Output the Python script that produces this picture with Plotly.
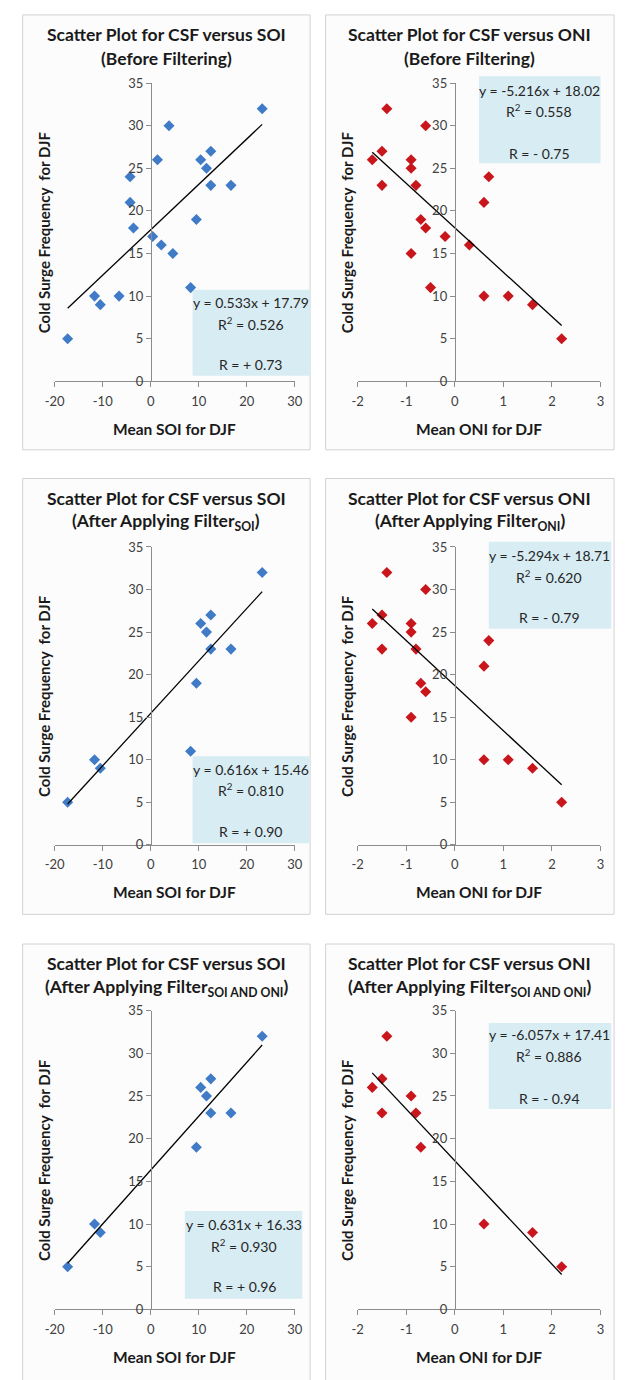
import plotly.graph_objects as go

# ---------------- data ----------------
# SOI panels (x = mean SOI for DJF, y = cold surge frequency)
soi_before_x = [-17.3, -11.7, -10.5, -6.6, -4.3, -4.3, -3.6, 0.4, 1.4, 2.2,
                3.8, 4.6, 8.3, 9.5, 10.4, 11.6, 12.5, 12.5, 16.7, 23.2]
csf_soi_before = [5, 10, 9, 10, 24, 21, 18, 17, 26, 16,
                  30, 15, 11, 19, 26, 25, 27, 23, 23, 32]

soi_filt_x = [-17.3, -11.7, -10.5, 8.3, 9.5, 10.4, 11.6, 12.5, 12.5, 16.7, 23.2]
csf_soi_filt = [5, 10, 9, 11, 19, 26, 25, 27, 23, 23, 32]

soi_both_x = [-17.3, -11.7, -10.5, 9.5, 10.4, 11.6, 12.5, 12.5, 16.7, 23.2]
csf_soi_both = [5, 10, 9, 19, 26, 25, 27, 23, 23, 32]

# ONI panels
oni_before_x = [-1.7, -1.5, -1.5, -1.4, -0.9, -0.9, -0.9, -0.8, -0.7, -0.6,
                -0.6, -0.5, -0.2, 0.3, 0.6, 0.6, 0.7, 1.1, 1.6, 2.2]
csf_oni_before = [26, 27, 23, 32, 26, 25, 15, 23, 19, 30,
                  18, 11, 17, 16, 21, 10, 24, 10, 9, 5]

oni_filt_x = [-1.7, -1.5, -1.5, -1.4, -0.9, -0.9, -0.9, -0.8, -0.7, -0.6,
              -0.6, 0.6, 0.6, 0.7, 1.1, 1.6, 2.2]
csf_oni_filt = [26, 27, 23, 32, 26, 25, 15, 23, 19, 30,
                18, 21, 10, 24, 10, 9, 5]

oni_both_x = [-1.7, -1.5, -1.5, -1.4, -0.9, -0.8, -0.7, 0.6, 1.6, 2.2]
csf_oni_both = [26, 27, 23, 32, 25, 23, 19, 10, 9, 5]

# trendline coefficients (as printed)
slopes = [0.533, -5.216, 0.616, -5.294, 0.631, -6.057]
intercepts = [17.79, 18.02, 15.46, 18.71, 16.33, 17.41]
eq_labels = ["y = 0.533x + 17.79", "y = -5.216x + 18.02",
             "y = 0.616x + 15.46", "y = -5.294x + 18.71",
             "y = 0.631x + 16.33", "y = -6.057x + 17.41"]
r2_labels = ["0.526", "0.558", "0.810", "0.620", "0.930", "0.886"]
r_labels = ["R = + 0.73", "R = - 0.75", "R = + 0.90", "R = - 0.79",
            "R = + 0.96", "R = - 0.94"]

titles_1 = ["Scatter Plot for CSF versus SOI", "Scatter Plot for CSF versus ONI"] * 3
titles_2 = ["(Before Filtering)", "(Before Filtering)",
            "(After Applying Filter<sub>SOI</sub>)", "(After Applying Filter<sub>ONI</sub>)",
            "(After Applying Filter<sub>SOI AND ONI</sub>)",
            "(After Applying Filter<sub>SOI AND ONI</sub>)"]
x_titles = ["Mean SOI for DJF", "Mean ONI for DJF"] * 3
y_title = "Cold Surge Frequency  for DJF"

soi_ticks = [-20, -10, 0, 10, 20, 30]
soi_ticktext = ["-20", "-10", "0", "10", "20", "30"]
oni_ticks = [-2, -1, 0, 1, 2, 3]
oni_ticktext = ["-2", "-1", "0", "1", "2", "3"]
y_ticks = [0, 5, 10, 15, 20, 25, 30, 35]
y_ticktext = ["0", "5", "10", "15", "20", "25", "30", "35"]

series_x = [soi_before_x, oni_before_x, soi_filt_x, oni_filt_x, soi_both_x, oni_both_x]
series_y = [csf_soi_before, csf_oni_before, csf_soi_filt, csf_oni_filt, csf_soi_both, csf_oni_both]

# ---------------- layout geometry (pixels) ----------------
W, H = 625, 1380
FONT = "Lato, Carlito, Calibri, sans-serif"
BLUE = "#3F7BC6"
RED = "#C8161C"
AXIS = "#8C8C8C"
TXT = "#262626"
BOX = "#D8ECF3"

def fx(px):
    return px / W

def fy(py):
    return 1 - py / H

rows = [dict(top=7, bottom=447, y0=377.7, y35=76),
        dict(top=476, bottom=917, y0=846.7, y35=545.3),
        dict(top=947, bottom=1392, y0=1316.7, y35=1014.3)]
cols = [dict(left=13, right=309, xa=46, xb=293.3, zero=145, rng=[-20, 30],
             tv=soi_ticks, tt=soi_ticktext, color=BLUE),
        dict(left=325, right=622, xa=358, xb=608, zero=458, rng=[-2, 3],
             tv=oni_ticks, tt=oni_ticktext, color=RED)]
# stat boxes: x0, x1, y0, y1, text center x, line y's
boxes = [
    (188, 309, 285, 372, 248, (298, 319, 361)),
    (483, 608, 69, 157, 545, (83, 104, 147)),
    (188, 308, 757, 845, 248, (770, 791, 833)),
    (493, 619, 540, 628, 555, (554, 575, 617)),
    (180, 301, 1217, 1306, 241, (1231, 1252, 1294)),
    (493, 619, 1027, 1114, 555, (1039, 1060, 1103)),
]

fig = go.Figure()
shapes = []
annotations = []
layout_axes = {}

for i in range(6):
    r = rows[i // 2]
    c = cols[i % 2]
    n = i + 1
    xa = "x" if n == 1 else f"x{n}"
    ya = "y" if n == 1 else f"y{n}"
    xkey = "xaxis" if n == 1 else f"xaxis{n}"
    ykey = "yaxis" if n == 1 else f"yaxis{n}"

    # panel background
    shapes.append(dict(type="rect", xref="paper", yref="paper",
                       x0=fx(c["left"]), x1=fx(c["right"]),
                       y0=fy(r["bottom"]), y1=fy(r["top"]),
                       fillcolor="#FCFCFC", line=dict(color="#D2D2D2", width=1),
                       layer="below"))
    # stat box
    bx0, bx1, by0, by1, bcx, lys = boxes[i]
    shapes.append(dict(type="rect", xref="paper", yref="paper",
                       x0=fx(bx0), x1=fx(bx1), y0=fy(by1), y1=fy(by0),
                       fillcolor=BOX, line=dict(width=0), layer="below"))
    lines = [eq_labels[i], "R<sup>2</sup> = " + r2_labels[i], r_labels[i]]
    for txt, ly in zip(lines, lys):
        annotations.append(dict(text=txt, xref="paper", yref="paper",
                                x=fx(bcx), y=fy(ly), xanchor="center", yanchor="middle",
                                showarrow=False, font=dict(family=FONT, size=14, color=TXT)))

    # scatter points
    fig.add_trace(go.Scatter(x=series_x[i], y=series_y[i], mode="markers",
                             marker=dict(symbol="diamond", size=8.5, color=c["color"],
                                         line=dict(width=0)),
                             xaxis=xa, yaxis=ya, showlegend=False, hoverinfo="x+y"))
    # trendline from fitted equation over the data range
    xmin, xmax = min(series_x[i]), max(series_x[i])
    fig.add_trace(go.Scatter(x=[xmin, xmax],
                             y=[slopes[i] * xmin + intercepts[i], slopes[i] * xmax + intercepts[i]],
                             mode="lines", line=dict(color="black", width=1.3),
                             xaxis=xa, yaxis=ya, showlegend=False, hoverinfo="skip"))

    layout_axes[xkey] = dict(domain=[fx(c["xa"]), fx(c["xb"])], range=c["rng"],
                             anchor=ya, showline=True, linecolor=AXIS, linewidth=1,
                             ticks="outside", ticklen=5, tickcolor=AXIS, tickwidth=1,
                             tickvals=c["tv"], ticktext=c["tt"], ticklabelstandoff=3,
                             showgrid=False, zeroline=False,
                             tickfont=dict(family=FONT, size=13, color="#404040"))
    layout_axes[ykey] = dict(domain=[fy(r["y0"]), fy(r["y35"])], range=[0, 35],
                             anchor="free", position=fx(c["zero"]),
                             showline=True, linecolor=AXIS, linewidth=1,
                             ticks="outside", ticklen=5, tickcolor=AXIS, tickwidth=1,
                             tickvals=y_ticks, ticktext=y_ticktext,
                             showgrid=False, zeroline=False,
                             tickfont=dict(family=FONT, size=13, color="#404040"))

    # titles
    pcx = (c["left"] + c["right"]) / 2
    annotations.append(dict(text="<b>" + titles_1[i] + "</b>", xref="paper", yref="paper",
                            x=fx(pcx), y=fy(r["top"] + 20), xanchor="center", yanchor="middle",
                            showarrow=False, font=dict(family=FONT, size=17.5, color="#1A1A1A")))
    annotations.append(dict(text="<b>" + titles_2[i] + "</b>", xref="paper", yref="paper",
                            x=fx(pcx), y=fy(r["top"] + 44), xanchor="center", yanchor="middle",
                            showarrow=False, font=dict(family=FONT, size=17.5, color="#1A1A1A")))
    # axis titles
    annotations.append(dict(text="<b>" + x_titles[i] + "</b>", xref="paper", yref="paper",
                            x=fx((c["xa"] + c["xb"]) / 2), y=fy(r["y0"] + 48),
                            xanchor="center", yanchor="middle", showarrow=False,
                            font=dict(family=FONT, size=15.5, color="#1A1A1A")))
    annotations.append(dict(text="<b>" + y_title + "</b>", xref="paper", yref="paper",
                            x=fx(c["left"] + 22), y=fy((r["y0"] + r["y35"]) / 2),
                            xanchor="center", yanchor="middle", textangle=-90,
                            showarrow=False, font=dict(family=FONT, size=15, color="#1A1A1A")))

fig.update_layout(width=W, height=H, margin=dict(l=0, r=0, t=0, b=0),
                  paper_bgcolor="white", plot_bgcolor="rgba(0,0,0,0)",
                  showlegend=False, shapes=shapes, annotations=annotations,
                  **layout_axes)

fig.write_html("out.html", config={"displayModeBar": False},
               post_script="document.body.style.margin='0';document.body.style.overflow='hidden';")
